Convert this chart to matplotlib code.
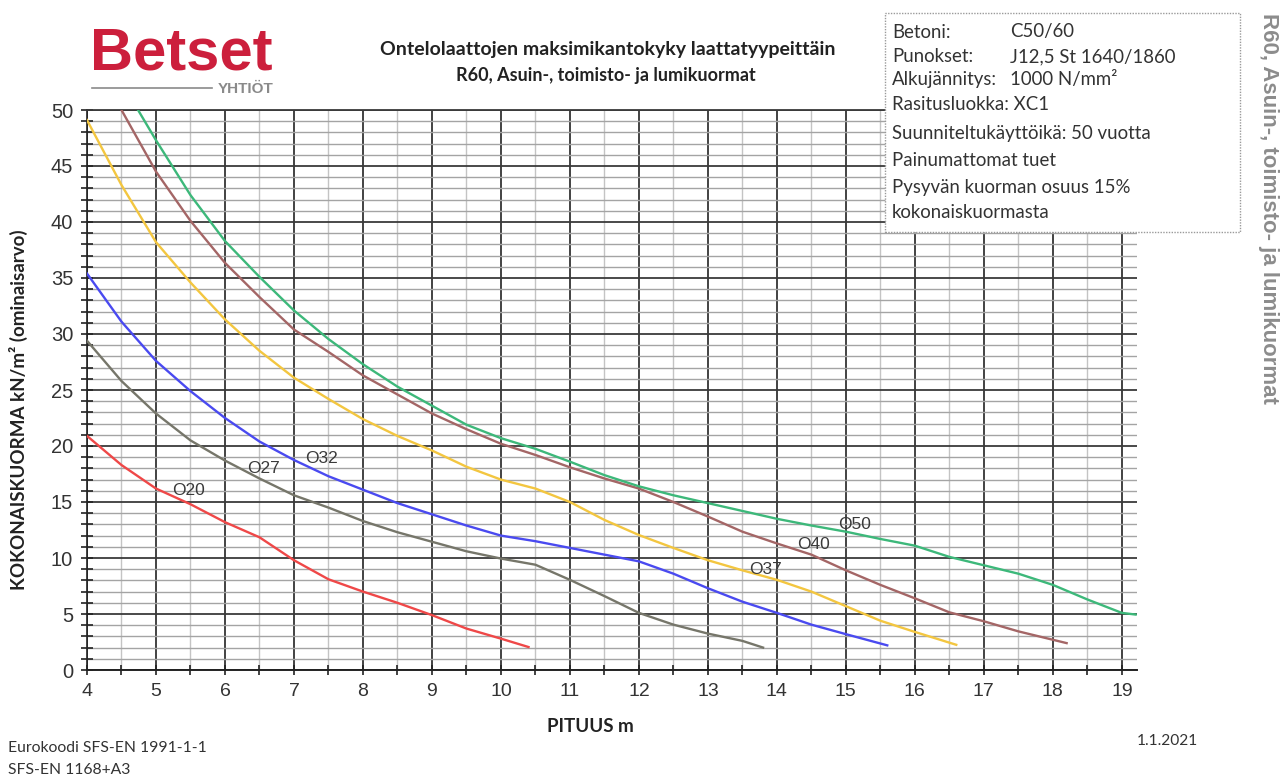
#!/usr/bin/env python3

import matplotlib
matplotlib.use("Agg")
import matplotlib.pyplot as plt
from matplotlib.ticker import MultipleLocator
from matplotlib.patches import Rectangle
from matplotlib.lines import Line2D

W, H = 1286, 778

# span (m) and characteristic total load (kN/m2) per slab type
o20_x = [4, 4.5, 5, 5.5, 6, 6.5, 7, 7.5, 8, 8.5, 9, 9.5, 10, 10.4]
o20_y = [20.9, 18.3, 16.2, 14.8, 13.2, 11.85, 9.8, 8.1, 7.0, 6.0, 4.9, 3.7, 2.8, 2.05]

o27_x = [4, 4.5, 5, 5.5, 6, 6.5, 7, 7.5, 8, 8.5, 9, 9.5, 10, 10.5, 11, 11.5,
         12, 12.5, 13, 13.5, 13.8]
o27_y = [29.4, 25.8, 22.9, 20.5, 18.7, 17.1, 15.6, 14.5, 13.3, 12.3, 11.45, 10.6,
         9.95, 9.4, 8.05, 6.6, 5.1, 4.05, 3.25, 2.6, 2.0]

o32_x = [4, 4.5, 5, 5.5, 6, 6.5, 7, 7.5, 8, 8.5, 9, 9.5, 10, 10.5, 11, 11.5,
         12, 12.5, 13, 13.5, 14, 14.5, 15, 15.6]
o32_y = [35.4, 31.1, 27.6, 24.9, 22.5, 20.4, 18.75, 17.3, 16.1, 14.9, 13.9, 12.9,
         12.0, 11.5, 10.9, 10.3, 9.7, 8.6, 7.3, 6.1, 5.1, 4.05, 3.2, 2.2]

o37_x = [4, 4.5, 5, 5.5, 6, 6.5, 7, 7.5, 8, 8.5, 9, 9.5, 10, 10.5, 11, 11.5,
         12, 12.5, 13, 13.5, 14, 14.5, 15, 15.5, 16, 16.6]
o37_y = [49.1, 43.3, 38.2, 34.6, 31.3, 28.5, 26.1, 24.2, 22.4, 20.9, 19.6, 18.15,
         17.0, 16.2, 15.0, 13.4, 12.05, 10.9, 9.8, 8.9, 8.05, 7.0, 5.7, 4.4, 3.4, 2.25]

o40_x = [4.5, 5, 5.5, 6, 6.5, 7, 7.5, 8, 8.5, 9, 9.5, 10, 10.5, 11, 11.5, 12,
         12.5, 13, 13.5, 14, 14.5, 15, 15.5, 16, 16.5, 17, 17.5, 18, 18.2]
o40_y = [50, 44.5, 40.1, 36.35, 33.3, 30.4, 28.4, 26.3, 24.6, 22.9, 21.5, 20.2,
         19.2, 18.1, 17.1, 16.2, 15.0, 13.7, 12.35, 11.3, 10.3, 8.9, 7.6, 6.4,
         5.15, 4.35, 3.45, 2.7, 2.4]

o50_x = [4.74, 5, 5.5, 6, 6.5, 7, 7.5, 8, 8.5, 9, 9.5, 10, 10.5, 11, 11.5, 12,
         12.5, 13, 13.5, 14, 14.5, 15, 15.5, 16, 16.5, 17, 17.5, 18, 18.5, 19, 19.2]
o50_y = [50, 47.3, 42.4, 38.3, 35.1, 32.1, 29.55, 27.3, 25.3, 23.6, 21.9, 20.7,
         19.75, 18.6, 17.4, 16.4, 15.6, 14.9, 14.2, 13.5, 12.9, 12.35, 11.7, 11.1,
         10.1, 9.35, 8.6, 7.6, 6.3, 5.1, 4.95]

series = [
    ("O20", o20_x, o20_y, "#ef4848"),
    ("O27", o27_x, o27_y, "#76766a"),
    ("O32", o32_x, o32_y, "#4a4af0"),
    ("O37", o37_x, o37_y, "#f3c640"),
    ("O40", o40_x, o40_y, "#a46666"),
    ("O50", o50_x, o50_y, "#3db87a"),
]

label_pos = {
    "O20": (5.47, 16.0),
    "O27": (6.56, 18.0),
    "O32": (7.40, 18.9),
    "O37": (13.84, 9.0),
    "O40": (14.53, 11.2),
    "O50": (15.13, 12.95),
}

info_keys = ["Betoni:", "Punokset:", "Alkujännitys:"]
info_vals = ["C50/60", "J12,5 St 1640/1860", "1000 N/mm²"]
info_lines = ["Rasitusluokka: XC1", "Suunniteltukäyttöikä: 50 vuotta",
              "Painumattomat tuet", "Pysyvän kuorman osuus 15%",
              "kokonaiskuormasta"]


def fx(px):
    return px / W


def fy(py):
    return 1 - py / H


fig = plt.figure(figsize=(W / 100, H / 100), dpi=100)
ax = fig.add_axes([fx(87), fy(670), fx(1137) - fx(87), fy(110) - fy(670)])

for name, xs, ys, color in series:
    ax.plot(xs, ys, color=color, lw=1.7, solid_joinstyle="round", zorder=3)
    lx, ly = label_pos[name]
    ax.text(lx, ly, name, fontsize=12.5, color="#3a3a3a", ha="center",
            va="center", family="Liberation Sans", zorder=4)

ax.set_xlim(4, 19.22)
ax.set_ylim(0, 50)
ax.xaxis.set_major_locator(MultipleLocator(1))
ax.xaxis.set_minor_locator(MultipleLocator(0.5))
ax.yaxis.set_major_locator(MultipleLocator(5))
ax.yaxis.set_minor_locator(MultipleLocator(1))

ax.grid(which="major", axis="x", color="#222222", lw=1.2, zorder=1)
ax.grid(which="minor", axis="x", color="#c4c4c4", lw=1.0, zorder=0)
ax.grid(which="major", axis="y", color="#3a3a3a", lw=1.3, zorder=1)
ax.grid(which="minor", axis="y", color="#a4a4a4", lw=1.0, zorder=0)
ax.set_axisbelow(True)

ax.spines["right"].set_visible(False)
ax.spines["top"].set_color("#3a3a3a")
ax.spines["top"].set_linewidth(1.3)
ax.spines["left"].set_color("#222222")
ax.spines["left"].set_linewidth(1.2)
ax.spines["bottom"].set_color("#222222")
ax.spines["bottom"].set_linewidth(1.4)

ax.tick_params(axis="x", which="both", direction="inout", length=7, width=1.2,
               color="#222222", labelsize=14, labelcolor="#333333", pad=6)
ax.tick_params(axis="y", which="both", direction="inout", length=8, width=1.2,
               color="#222222", labelsize=14.5, labelcolor="#333333", pad=6)
for lab in ax.get_xticklabels() + ax.get_yticklabels():
    lab.set_family("Liberation Sans")

# axis titles
fig.text(fx(18), fy(410), "KOKONAISKUORMA kN/m² (ominaisarvo)", rotation=90,
         ha="center", va="center", fontsize=13.5, fontweight="bold",
         family="Lato", color="#222222")
fig.text(fx(590), fy(727), "PITUUS m", ha="center", va="center", fontsize=13.5,
         fontweight="bold", family="Lato", color="#222222")

# title
fig.text(fx(608), fy(50), "Ontelolaattojen maksimikantokyky laattatyypeittäin",
         ha="center", va="center", fontsize=14, fontweight="bold",
         family="Lato", color="#222222")
fig.text(fx(606), fy(75), "R60, Asuin-, toimisto- ja lumikuormat",
         ha="center", va="center", fontsize=13, fontweight="bold",
         family="Lato", color="#222222")

# logo
fig.text(fx(90), fy(54), "Betset", ha="left", va="center", fontsize=43,
         fontweight="bold", family="Liberation Sans", color="#cc1f3c")
fig.text(fx(273), fy(89), "YHTIÖT", ha="right", va="center", fontsize=11,
         fontweight="bold", family="Liberation Sans", color="#8a8a8a")
fig.add_artist(Line2D([fx(92), fx(212)], [fy(88), fy(88)], color="#8a8a8a",
                      lw=1.2))

# info box
fig.add_artist(Rectangle((fx(885), fy(232)), fx(1240) - fx(885), fy(13) - fy(232),
                         transform=fig.transFigure, facecolor="white",
                         edgecolor="#9a9a9a", lw=1.0, ls=(0, (1, 1)), zorder=5))
row_y = [32, 57, 80, 104, 133, 160, 188, 213]
for i, key in enumerate(info_keys):
    fig.text(fx(892), fy(row_y[i]), key, ha="left", va="center", fontsize=13.4,
             family="Lato", color="#333333", zorder=6)
    fig.text(fx(1010), fy(row_y[i]), info_vals[i], ha="left", va="center",
             fontsize=13.4, family="Lato", color="#333333", zorder=6)
for j, line in enumerate(info_lines):
    fig.text(fx(892), fy(row_y[3 + j]), line, ha="left", va="center",
             fontsize=13.4, family="Lato", color="#333333", zorder=6)

# side text
fig.text(fx(1268), fy(208), "R60, Asuin-, toimisto- ja lumikuormat", rotation=-90,
         ha="center", va="center", fontsize=16, fontweight="bold",
         family="Liberation Sans", color="#8c8c8c")

# footer
fig.text(fx(8), fy(748), "Eurokoodi SFS-EN 1991-1-1", ha="left", va="center",
         fontsize=11.3, family="Lato", color="#333333")
fig.text(fx(8), fy(770), "SFS-EN 1168+A3", ha="left", va="center",
         fontsize=11.3, family="Lato", color="#333333")
fig.text(fx(1167), fy(741), "1.1.2021", ha="center", va="center",
         fontsize=11.2, family="Lato", color="#333333")

fig.savefig("out.png", dpi=100)
